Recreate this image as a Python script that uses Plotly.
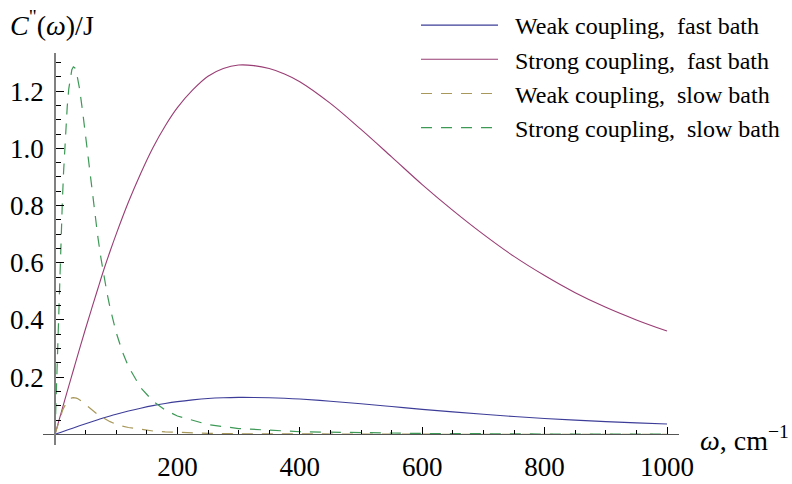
import plotly.graph_objects as go

# Spectral densities C''(ω)/J for fast and slow baths, weak and strong coupling
omega_fast = [0, 10, 20, 30, 40, 50, 60, 70, 80, 90, 100, 120, 140, 160, 180, 200,
              225, 250, 275, 300, 325, 350, 375, 400, 450, 500, 550, 600, 650, 700,
              750, 800, 850, 900, 950, 1000]
weak_fast = [0, 0.0075, 0.0150, 0.0224, 0.0298, 0.0370, 0.0440, 0.0509, 0.0577, 0.0640,
             0.0700, 0.0812, 0.0912, 0.1002, 0.1078, 0.1142, 0.1204, 0.1252, 0.1279,
             0.1291, 0.1289, 0.1279, 0.1260, 0.1233, 0.1157, 0.1066, 0.0970, 0.0873,
             0.0783, 0.0699, 0.0622, 0.0555, 0.0495, 0.0444, 0.0400, 0.0361]
strong_fast = [0, 0.075, 0.150, 0.224, 0.298, 0.370, 0.440, 0.509, 0.577, 0.640,
               0.700, 0.812, 0.912, 1.002, 1.078, 1.142, 1.204, 1.252, 1.279,
               1.291, 1.289, 1.279, 1.260, 1.233, 1.157, 1.066, 0.970, 0.873,
               0.783, 0.699, 0.622, 0.555, 0.495, 0.444, 0.400, 0.361]

omega_slow = [0, 1, 2, 3, 4, 5, 6, 7, 8, 9, 10, 12, 14, 16, 18, 20, 22.5, 25, 27.5, 30,
              32.5, 35, 37.5, 40, 45, 50, 55, 60, 65, 70, 75, 80, 85, 90, 95, 100,
              110, 120, 140, 160, 180, 200, 250, 300, 400, 500, 600, 800, 1000]
weak_slow = [0, 0.0075, 0.0149, 0.0223, 0.0296, 0.0368, 0.0438, 0.0507, 0.0573, 0.0637,
             0.0698, 0.0813, 0.0916, 0.1006, 0.1083, 0.1146, 0.1208, 0.1250, 0.1275,
             0.1285, 0.1281, 0.1266, 0.1242, 0.1210, 0.1131, 0.1042, 0.0948, 0.0856,
             0.0770, 0.0690, 0.0617, 0.0552, 0.0494, 0.0442, 0.0397, 0.0356, 0.0289,
             0.0237, 0.0163, 0.0116, 0.0085, 0.0064, 0.0034, 0.0020, 0.0009, 0.0005,
             0.0003, 0.0001, 0.0001]
strong_slow = [0, 0.075, 0.149, 0.223, 0.296, 0.368, 0.438, 0.507, 0.573, 0.637,
               0.698, 0.813, 0.916, 1.006, 1.083, 1.146, 1.208, 1.250, 1.275,
               1.285, 1.281, 1.266, 1.242, 1.210, 1.131, 1.042, 0.948, 0.856,
               0.770, 0.690, 0.617, 0.552, 0.494, 0.442, 0.397, 0.356, 0.289,
               0.237, 0.163, 0.116, 0.085, 0.064, 0.034, 0.020, 0.009, 0.005,
               0.003, 0.001, 0.0006]

series_names = ["Weak coupling,  fast bath", "Strong coupling,  fast bath",
                "Weak coupling,  slow bath", "Strong coupling,  slow bath"]

x_major = [200, 400, 600, 800, 1000]
x_minor = [v for v in range(50, 1001, 50) if v % 200]
y_major = [0.2, 0.4, 0.6, 0.8, 1.0, 1.2]
y_minor = [round(0.05 * k, 2) for k in range(1, 27) if k % 4]

W, H = 792, 484
M_L, M_R, M_T, M_B = 43, 113, 53, 39
X_RANGE = [-19.6, 1019.6]
Y_RANGE = [-0.0374, 1.3332]
PLOT_W = W - M_L - M_R
PLOT_H = H - M_T - M_B


def paper_x(px):
    return (px - M_L) / PLOT_W


def paper_y(py):
    return (H - M_B - py) / PLOT_H


SERIF = "Liberation Serif"
BLUE = "#3d3d99"
PURPLE = "#993d74"
TAN = "#a8985a"
GREEN = "#3d9956"
DASH = "11px,9px"
GAP = "\u2002"  # spacing between the legend sample line and its label

fig = go.Figure()
fig.add_trace(go.Scatter(x=omega_fast, y=weak_fast, mode="lines", name=GAP + series_names[0],
                         line=dict(color=BLUE, width=1.1, shape="spline")))
fig.add_trace(go.Scatter(x=omega_fast, y=strong_fast, mode="lines", name=GAP + series_names[1],
                         line=dict(color=PURPLE, width=1.1, shape="spline")))
fig.add_trace(go.Scatter(x=omega_slow, y=weak_slow, mode="lines", name=GAP + series_names[2],
                         line=dict(color=TAN, width=1.2, dash=DASH)))
fig.add_trace(go.Scatter(x=omega_slow, y=strong_slow, mode="lines", name=GAP + series_names[3],
                         line=dict(color=GREEN, width=1.2, dash=DASH)))

tick_font = dict(family=SERIF, size=27, color="black")

fig.update_layout(
    width=W, height=H,
    margin=dict(l=M_L, r=M_R, t=M_T, b=M_B, pad=0, autoexpand=False),
    paper_bgcolor="white", plot_bgcolor="white",
    font=dict(family=SERIF, color="black"),
    showlegend=True,
    legend=dict(x=paper_x(416), y=paper_y(3), xanchor="left", yanchor="top",
                font=dict(family=SERIF, size=24, color="black"),
                bgcolor="rgba(0,0,0,0)", borderwidth=0, itemwidth=77,
                tracegroupgap=0),
    xaxis=dict(range=X_RANGE, anchor="free",
               position=(0 - Y_RANGE[0]) / (Y_RANGE[1] - Y_RANGE[0]),
               showline=True, linecolor="#555555", linewidth=1,
               showgrid=False, zeroline=False, automargin=False,
               tickmode="array", tickvals=x_major, ticktext=[str(v) for v in x_major],
               ticks="inside", ticklen=7, tickwidth=1, tickcolor="black",
               tickfont=tick_font, ticklabelstandoff=8,
               minor=dict(tickmode="array", tickvals=x_minor, ticks="inside",
                          ticklen=4, tickwidth=1, tickcolor="black", showgrid=False)),
    yaxis=dict(range=Y_RANGE, anchor="free",
               position=(0 - X_RANGE[0]) / (X_RANGE[1] - X_RANGE[0]),
               showline=True, linecolor="#808080", linewidth=1.6,
               showgrid=False, zeroline=False, automargin=False,
               tickmode="array", tickvals=y_major, ticktext=[f"{v:.1f}" for v in y_major],
               ticks="inside", ticklen=8, tickwidth=1, tickcolor="black",
               tickfont=tick_font, ticklabelstandoff=5,
               minor=dict(tickmode="array", tickvals=y_minor, ticks="inside",
                          ticklen=5, tickwidth=1, tickcolor="black", showgrid=False)),
    annotations=[
        dict(text="<i>C</i><sup>\"</sup>(<i>ω</i>)/J", xref="paper", yref="paper",
             x=paper_x(8), y=paper_y(24), xanchor="left", yanchor="middle",
             showarrow=False, font=dict(family=SERIF, size=28, color="black")),
        dict(text="<i>ω</i>, cm<sup>−1</sup>", xref="paper", yref="paper",
             x=paper_x(698), y=paper_y(438), xanchor="left", yanchor="middle",
             showarrow=False, font=dict(family=SERIF, size=28, color="black")),
    ],
)

fig.write_html("out.html")
